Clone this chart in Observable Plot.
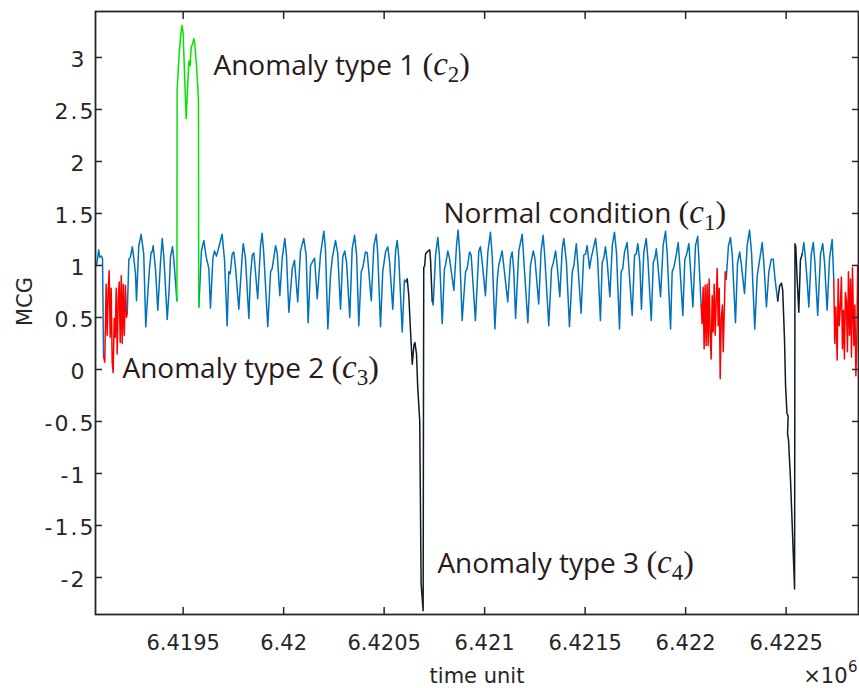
<!DOCTYPE html>
<html><head><meta charset="utf-8">
<script src="https://cdn.jsdelivr.net/npm/d3@7"></script>
<script src="https://cdn.jsdelivr.net/npm/@observablehq/plot@0.6"></script>
<style>body{margin:0;background:#fff} svg{display:block}</style>
</head><body><div id="chart"></div>
<script>
// ---- tick values ----
const xTicks = [6419500, 6420000, 6420500, 6421000, 6421500, 6422000, 6422500];
const yTicksInt = [-2, -1, 0, 1, 2, 3];
const yTicksHalf = [-1.5, -0.5, 0.5, 1.5, 2.5];
const yTicksAll = [-2, -1.5, -1, -0.5, 0, 0.5, 1, 1.5, 2, 2.5, 3];

// ---- normal condition (c1), blue; null = gap ----
const normalT = [
6419064,6419071,6419080,6419085,6419094,6419099,6419104,null,
6419222,6419230,6419238,6419247,6419252,6419263,6419268,6419279,6419291,6419304,6419314,6419326,6419333,6419341,6419346,6419351,6419363,6419374,6419387,6419396,6419404,6419421,6419431,6419437,6419447,6419454,6419469,null,
6419578,6419591,6419603,6419615,6419628,6419636,6419648,6419656,6419666,6419694,6419706,6419719,6419727,6419734,6419744,6419752,6419761,6419777,6419794,6419799,6419810,6419827,6419835,6419844,6419852,6419871,6419885,6419893,6419901,6419921,6419935,6419943,6419960,6419968,6419981,6419993,6420006,6420014,6420026,6420043,6420054,6420070,6420084,6420100,6420112,6420122,6420134,6420142,6420154,6420167,6420183,6420200,6420208,6420220,6420233,6420242,6420258,6420269,6420283,6420294,6420304,6420313,6420329,6420341,6420353,6420363,6420374,6420386,6420394,6420407,6420416,6420436,6420449,6420461,6420468,6420482,6420493,6420507,6420518,6420527,6420543,6420557,6420565,6420573,6420590,6420601,6420610,6420615,null,
6420739,6420744,6420756,6420767,6420775,6420789,6420800,6420805,6420817,6420825,6420847,6420860,6420868,6420876,6420888,6420905,6420913,6420925,6420933,6420954,6420971,6420979,6420988,6421004,6421016,6421029,6421038,6421051,6421063,6421070,6421087,6421095,6421115,6421129,6421137,6421145,6421154,6421170,6421187,6421195,6421215,6421228,6421242,6421250,6421269,6421281,6421291,6421299,6421319,6421333,6421341,6421353,6421361,6421374,6421386,6421394,6421407,6421422,6421436,6421444,6421456,6421463,6421480,6421493,6421502,6421510,6421522,6421530,6421552,6421562,6421576,6421585,6421593,6421601,6421610,6421623,6421635,6421646,6421656,6421671,6421679,6421687,6421696,6421709,6421717,6421734,6421746,6421754,6421762,6421772,6421780,6421792,6421804,6421812,6421829,6421839,6421847,6421854,6421861,6421875,6421888,6421900,6421908,6421925,6421933,6421941,6421954,6421963,6421971,6421986,6421996,6422004,6422016,6422024,6422036,6422049,6422060,6422069,6422077,null,
6422202,6422213,6422223,6422232,6422248,6422258,6422269,6422276,6422293,6422306,6422318,6422328,6422344,6422356,6422364,6422381,6422389,6422402,6422414,6422426,6422436,6422444,6422458,null,
6422580,6422588,6422596,6422605,6422613,6422625,6422635,6422643,6422657,6422671,6422682,6422691,6422704,6422716,6422729,6422737
];
const normalV = [
0.99,1.02,1.15,1.08,1.09,1.06,0.13,null,
0.54,1.06,1.08,1.18,1.11,0.92,0.66,1.18,1.30,1.11,0.41,0.79,0.98,1.13,1.13,1.19,0.95,0.57,1.02,1.26,1.08,0.48,0.79,1.08,1.18,1.05,0.66,null,
0.60,1.14,1.24,1.08,0.97,0.59,1.07,1.14,1.09,1.30,1.05,0.42,0.94,0.92,1.11,1.13,0.97,0.58,1.10,1.21,1.07,0.49,0.90,1.10,1.12,0.68,1.19,1.31,1.12,0.41,0.94,0.97,1.19,1.12,0.71,1.07,1.26,1.10,0.55,0.97,1.05,0.65,1.14,1.26,1.10,0.45,1.00,1.03,1.07,0.68,1.10,1.33,1.16,0.39,0.90,1.07,1.24,1.12,0.58,1.08,1.14,1.03,0.50,1.16,1.29,1.10,0.42,0.94,0.98,1.13,1.12,0.66,1.19,1.30,1.12,0.41,0.94,1.13,1.18,1.04,0.58,1.14,1.24,1.07,0.36,0.86,0.84,0.87,null,
0.66,0.62,1.10,1.27,1.10,0.44,0.97,1.00,1.14,1.07,0.76,1.19,1.34,1.12,0.47,0.94,0.97,1.13,1.10,0.47,1.14,1.18,1.03,0.71,1.13,1.32,1.08,0.39,0.87,1.00,1.14,1.00,0.65,1.07,1.13,0.95,0.49,1.14,1.30,1.05,0.45,1.00,1.14,1.07,0.63,1.14,1.29,1.09,0.42,0.97,1.02,1.14,1.00,0.70,1.16,1.26,1.03,0.41,0.94,1.00,1.21,1.03,0.54,1.10,1.11,1.19,0.97,1.07,1.26,1.07,0.47,1.03,1.07,1.18,1.03,0.70,1.19,1.32,1.12,0.39,0.94,0.97,1.13,1.22,1.00,0.52,1.10,1.11,1.21,1.03,0.58,1.13,1.26,1.07,0.47,1.03,1.07,1.16,1.03,0.70,1.19,1.33,1.12,0.39,0.94,0.98,1.11,1.22,1.00,0.52,1.06,1.10,1.21,0.97,0.60,1.19,1.28,0.94,0.62,null,
0.87,1.19,1.27,1.10,0.45,1.02,1.13,1.03,0.73,1.19,1.34,1.12,0.39,0.90,1.00,1.22,1.03,0.60,0.94,1.06,1.06,0.88,0.66,null,
1.11,1.22,1.07,0.84,0.60,1.11,1.22,1.03,0.52,1.11,1.21,1.03,0.57,1.07,1.25,0.86
];

// ---- anomaly type 1 (c2), green ----
const type1T = [6419469,6419470,6419478,6419487,6419495,6419500,6419507,6419515,6419522,6419528,6419532,6419535,6419540,6419547,6419553,6419558,6419567,6419573,6419576,6419578];
const type1V = [0.66,2.68,2.97,3.20,3.31,3.23,2.84,2.41,2.71,2.95,2.97,2.92,3.10,3.13,3.18,3.13,2.91,2.71,2.59,0.60];

// ---- anomaly type 2 (c3), red ----
const type2T = [
6419104,6419110,6419117,6419122,6419127,6419132,6419137,6419142,6419147,6419152,6419157,6419162,6419167,6419172,6419177,6419182,6419187,6419192,6419197,6419202,6419207,6419213,6419218,6419222,null,
6422077,6422082,6422087,6422092,6422097,6422102,6422107,6422112,6422117,6422122,6422127,6422132,6422137,6422142,6422147,6422152,6422157,6422162,6422167,6422172,6422177,6422183,6422187,6422192,6422197,6422202,null,
6422737,6422742,6422747,6422754,6422759,6422764,6422770,6422775,6422780,6422785,6422790,6422795,6422800,6422805,6422810,6422815,6422820,6422825,6422830,6422837,6422842,6422847,6422852,6422856,6422861
];
const type2V = [
0.13,0.07,0.82,0.33,0.74,0.95,0.31,0.78,0.07,-0.03,0.49,0.31,0.78,0.15,0.68,0.84,0.26,0.90,0.25,0.82,0.33,0.81,0.50,0.54,null,
0.62,0.44,0.79,0.20,0.81,0.23,0.82,0.23,0.87,0.33,0.10,0.71,0.36,0.82,0.33,0.65,0.97,0.42,0.78,-0.09,0.49,0.62,0.17,0.54,0.94,0.87,null,
0.86,0.25,0.60,0.09,0.87,0.42,0.62,0.89,0.20,0.57,0.10,0.74,0.65,0.17,0.94,0.33,0.87,0.12,0.98,0.23,0.62,-0.06,0.33,1.00,0.58
];

// ---- anomaly type 3 (c4), black ----
const type3T = [
6420615,6420623,6420631,6420640,6420648,6420653,6420661,6420667,6420677,6420684,6420694,6420697,6420702,6420706,6420714,6420719,6420727,6420731,6420739,null,
6422458,6422467,6422477,6422483,6422492,6422497,6422504,6422510,6422507,6422512,6422522,6422542,6422544,6422548,6422555,6422563,6422571,6422580
];
const type3V = [
0.87,0.70,0.38,0.05,0.23,0.26,0.15,-0.17,-0.49,-2.06,-2.32,0.98,1.00,1.11,1.13,1.14,1.15,1.05,0.66,null,
0.66,0.80,0.83,0.76,0.28,-0.15,-0.42,-0.45,-0.62,-0.68,-1.07,-2.11,1.21,1.18,0.86,0.55,1.05,1.11
];

// ---- annotations ----
const noteLabels = ["Anomaly type 1", "Normal condition", "Anomaly type 2", "Anomaly type 3"];
const noteSubs = ["2", "1", "3", "4"];
const noteT = [6419651, 6420795, 6419198, 6420765];
const noteV = [2.92, 1.49, 0.0, -1.87];

const rows = (T, V) => T.map((t, i) => ({t, v: V[i]}));
const notes = noteLabels.map((label, i) => ({label, t: noteT[i], v: noteV[i]}));

const axisColor = "#262626";
const axisFont = "'DejaVu Sans', 'Liberation Sans', sans-serif";
const lineW = 1.5;
const fmtX = d => String(+(d / 1e6).toFixed(4));

const chart = Plot.plot({
  width: 859,
  height: 688,
  marginLeft: 95,
  marginRight: 1,
  marginTop: 11,
  marginBottom: 74,
  style: {fontFamily: axisFont, fontSize: "21px", color: axisColor, background: "#fff"},
  x: {domain: [6419064, 6422860], label: null},
  y: {domain: [-2.356, 3.442], label: null},
  marks: [
    Plot.line(rows(normalT, normalV), {x: "t", y: "v", stroke: "#0072bd", strokeWidth: lineW, clip: true}),
    Plot.line(rows(type3T, type3V), {x: "t", y: "v", stroke: "#0e1c28", strokeWidth: lineW, clip: true}),
    Plot.line(rows(type2T, type2V), {x: "t", y: "v", stroke: "#ff0000", strokeWidth: lineW, clip: true}),
    Plot.line(rows(type1T, type1V), {x: "t", y: "v", stroke: "#00e600", strokeWidth: lineW, clip: true}),
    Plot.frame({stroke: axisColor, strokeWidth: 1.8}),
    // inward tick marks on all four sides
    Plot.axisX(xTicks, {anchor: "bottom", tickSize: -7, fill: "none", stroke: axisColor, strokeWidth: 1.5, label: null}),
    Plot.axisX(xTicks, {anchor: "top", tickSize: -7, fill: "none", stroke: axisColor, strokeWidth: 1.5, label: null}),
    Plot.axisY(yTicksAll, {anchor: "left", tickSize: -7, fill: "none", stroke: axisColor, strokeWidth: 1.5, label: null}),
    Plot.axisY(yTicksAll, {anchor: "right", tickSize: -7, fill: "none", stroke: axisColor, strokeWidth: 1.5, label: null}),
    // tick labels
    Plot.text(xTicks, {x: d => d, frameAnchor: "bottom", dy: 21, lineAnchor: "top", text: fmtX, fontSize: 21, fill: axisColor}),
    Plot.text(yTicksHalf, {y: d => d, frameAnchor: "left", textAnchor: "end", dx: 0, dy: 2, lineAnchor: "middle", text: d => String(d), fontSize: 22, fill: axisColor}),
    Plot.text(yTicksInt, {y: d => d, frameAnchor: "left", textAnchor: "end", dx: -9, dy: 2, lineAnchor: "middle", text: d => String(d), fontSize: 22, fill: axisColor}),
    // axis titles
    Plot.text(["time unit"], {frameAnchor: "bottom", dy: 62, lineAnchor: "middle", fontSize: 21, fill: axisColor, text: d => d}),
    Plot.text(["\u00d710"], {frameAnchor: "bottom-right", textAnchor: "end", dx: -11, dy: 62, lineAnchor: "middle", fontSize: 21, fill: axisColor, text: d => d}),
    Plot.text(["6"], {frameAnchor: "bottom-right", textAnchor: "end", dx: -1, dy: 53, lineAnchor: "middle", fontSize: 15, fill: axisColor, text: d => d}),
    Plot.text(["MCG"], {frameAnchor: "left", rotate: -90, dx: -70, dy: 13, lineAnchor: "middle", fontSize: 21, fill: axisColor, text: d => d}),
    // annotations
    Plot.text(notes, {x: "t", y: "v", text: "label", textAnchor: "start", lineAnchor: "middle", fontSize: 28, fontFamily: "'Open Sans', sans-serif", fill: "#2b1a1a"})
  ]
});

document.getElementById("chart").appendChild(chart);

const svg = d3.select(chart);
// slightly wider letter spacing on y tick labels, as in the reference
const yLabelSet = new Set(yTicksAll.map(String));
svg.selectAll("text").filter(function() { return yLabelSet.has(this.textContent); })
  .style("letter-spacing", "2px");

// add the math-style "(c_k)" part of each annotation as real text spans
const serif = "'Liberation Serif', 'Times New Roman', serif";
svg.selectAll("text").filter(function() { return noteLabels.includes(this.textContent); }).each(function() {
  const i = noteLabels.indexOf(this.textContent);
  const t = d3.select(this);
  t.append("tspan").text(" ");
  t.append("tspan").attr("font-family", serif).attr("font-size", 32).text("(");
  t.append("tspan").attr("font-family", serif).attr("font-style", "italic").attr("font-size", 33).text("c");
  t.append("tspan").attr("font-family", serif).attr("font-size", 23).attr("dy", 7).text(noteSubs[i]);
  t.append("tspan").attr("font-family", serif).attr("font-size", 32).attr("dy", -7).text(")");
});
</script>
</body></html>
